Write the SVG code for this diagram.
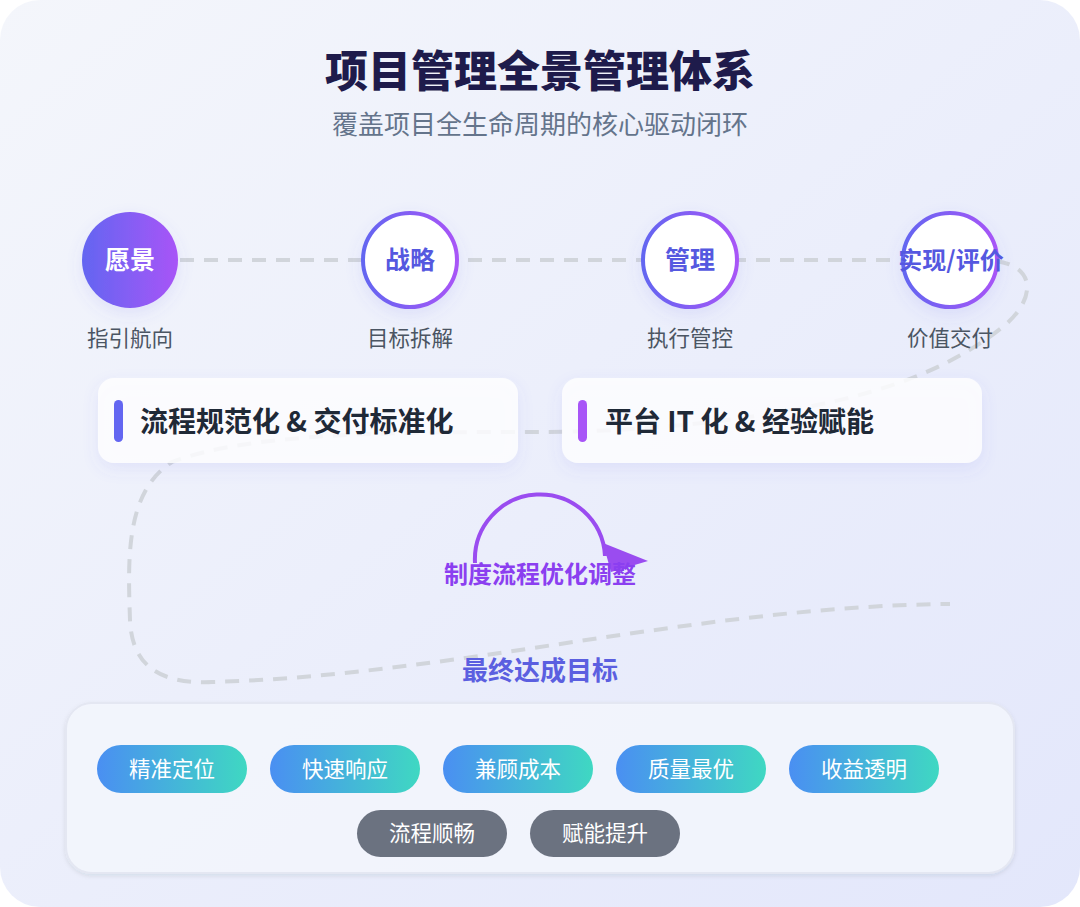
<svg xmlns="http://www.w3.org/2000/svg" width="1080" height="907" viewBox="0 0 1080 907">
<defs>
<linearGradient id="bg" x1="0" y1="0" x2="1" y2="1">
<stop offset="0" stop-color="#f4f6fb"/>
<stop offset="1" stop-color="#e3e7fb"/>
</linearGradient>
<linearGradient id="purp" x1="0" y1="0" x2="1" y2="0">
<stop offset="0" stop-color="#6366f1"/>
<stop offset="1" stop-color="#a855f7"/>
</linearGradient>
<linearGradient id="pill" x1="0" y1="0" x2="1" y2="0">
<stop offset="0" stop-color="#4a8ff2"/>
<stop offset="1" stop-color="#3fd8c2"/>
</linearGradient>
<filter id="sh" x="-30%" y="-30%" width="160%" height="170%">
<feDropShadow dx="0" dy="6" stdDeviation="8" flood-color="#6366f1" flood-opacity="0.12"/>
</filter>
<filter id="shs" x="-10%" y="-10%" width="120%" height="130%">
<feDropShadow dx="0" dy="2" stdDeviation="2" flood-color="#1e293b" flood-opacity="0.10"/>
</filter>
</defs>
<style>
.cjk{font-family:"Noto Sans CJK SC","Noto Sans",sans-serif;}
.lbl{font-size:21.5px;fill:#4b5563;text-anchor:middle;}
.ctext{font-size:25px;font-weight:700;text-anchor:middle;fill:#5558e0;}
.card{fill:#ffffff;fill-opacity:0.82;}
.ctitle{font-size:28px;font-weight:700;fill:#1f2937;}
.ptext{font-size:21.5px;fill:#ffffff;text-anchor:middle;}
.ring{fill:#ffffff;stroke:url(#purp);stroke-width:4;}
</style>
<rect x="0" y="0" width="1080" height="907" fill="#ffffff"/>
<rect x="0" y="0" width="1080" height="907" rx="40" fill="url(#bg)"/>
<g id="title" class="cjk">
<text x="540" y="87" text-anchor="middle" font-size="43" font-weight="900" fill="#1e1b4b">项目管理全景管理体系</text>
<text x="540" y="134" text-anchor="middle" font-size="26" fill="#64748b">覆盖项目全生命周期的核心驱动闭环</text>
</g>
<g id="connectors">
<path d="M180,260 L985,260 C1040,262 1035,300 1005,325 C975,350 930,375 870,392 C780,418 650,432 540,432 C400,432 250,432 172,462 C125,492 128,560 130,620 C132,668 162,684 212,682 C450,676 700,606 950,604" fill="none" stroke="#d1d5db" stroke-width="4" stroke-dasharray="14 10"/>
<path d="M475,563 A65,65 0 0,1 605,556" fill="none" stroke="#9a4cf0" stroke-width="4"/>
<polygon points="603,543 648,561 611,572" fill="#9a4cf0"/>
</g>
<g id="node-vision" class="cjk">
<circle cx="130" cy="260" r="48" fill="url(#purp)" filter="url(#sh)"/>
<text x="130" y="269" class="ctext" style="fill:#ffffff">愿景</text>
<text x="130" y="346" class="lbl">指引航向</text>
</g>
<g id="node-strategy" class="cjk">
<circle cx="410" cy="260" r="47" class="ring" filter="url(#sh)"/>
<text x="410" y="269" class="ctext">战略</text>
<text x="410" y="346" class="lbl">目标拆解</text>
</g>
<g id="node-manage" class="cjk">
<circle cx="690" cy="260" r="47" class="ring" filter="url(#sh)"/>
<text x="690" y="269" class="ctext">管理</text>
<text x="690" y="346" class="lbl">执行管控</text>
</g>
<g id="node-realize" class="cjk">
<circle cx="950" cy="260" r="47" class="ring" filter="url(#sh)"/>
<text x="951" y="269" class="ctext" style="font-size:24px">实现/评价</text>
<text x="950" y="346" class="lbl">价值交付</text>
</g>
<g id="card-process" class="cjk">
<rect x="98" y="378" width="420" height="85" rx="16" class="card" filter="url(#sh)"/>
<rect x="114" y="400" width="9" height="42" rx="4.5" fill="#6366f1"/>
<text x="140" y="432" class="ctitle">流程规范化 &amp; 交付标准化</text>
</g>
<g id="card-platform" class="cjk">
<rect x="562" y="378" width="420" height="85" rx="16" class="card" filter="url(#sh)"/>
<rect x="578" y="400" width="9" height="42" rx="4.5" fill="#a855f7"/>
<text x="605" y="432" class="ctitle">平台 IT 化 &amp; 经验赋能</text>
</g>
<g id="loop-label" class="cjk">
<text x="540" y="583" text-anchor="middle" font-size="24" font-weight="700" fill="#8b3ff0">制度流程优化调整</text>
</g>
<g id="goal-title" class="cjk">
<text x="540" y="680" text-anchor="middle" font-size="26" font-weight="700" fill="#5b5fe0">最终达成目标</text>
</g>
<g id="goal-panel" class="cjk">
<rect x="66" y="703" width="948" height="170" rx="26" fill="#f5f7fe" fill-opacity="0.85" stroke="#e4e7f2" stroke-width="2" filter="url(#shs)"/>
<g id="pill-1"><rect x="97" y="745" width="150" height="48" rx="24" fill="url(#pill)"/><text x="172" y="777" class="ptext">精准定位</text></g>
<g id="pill-2"><rect x="270" y="745" width="150" height="48" rx="24" fill="url(#pill)"/><text x="345" y="777" class="ptext">快速响应</text></g>
<g id="pill-3"><rect x="443" y="745" width="150" height="48" rx="24" fill="url(#pill)"/><text x="518" y="777" class="ptext">兼顾成本</text></g>
<g id="pill-4"><rect x="616" y="745" width="150" height="48" rx="24" fill="url(#pill)"/><text x="691" y="777" class="ptext">质量最优</text></g>
<g id="pill-5"><rect x="789" y="745" width="150" height="48" rx="24" fill="url(#pill)"/><text x="864" y="777" class="ptext">收益透明</text></g>
<g id="pill-6"><rect x="357" y="810" width="150" height="47" rx="23.5" fill="#6b7280"/><text x="432" y="841" class="ptext">流程顺畅</text></g>
<g id="pill-7"><rect x="530" y="810" width="150" height="47" rx="23.5" fill="#6b7280"/><text x="605" y="841" class="ptext">赋能提升</text></g>
</g>
</svg>
